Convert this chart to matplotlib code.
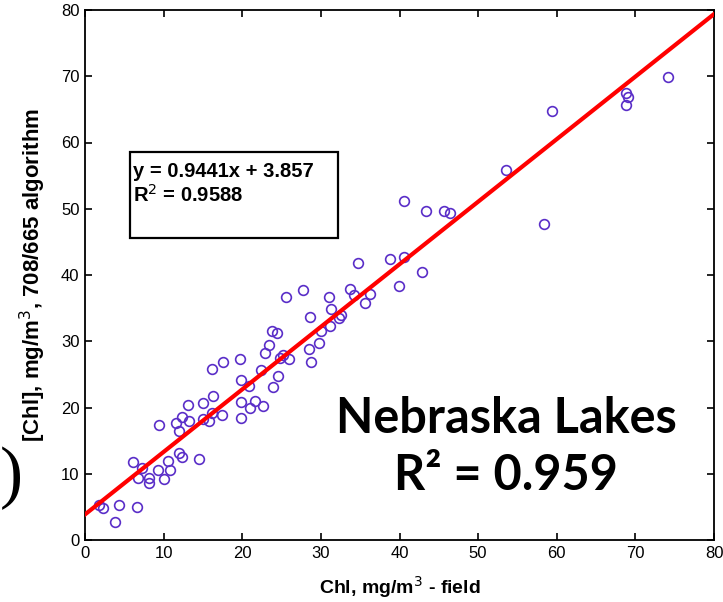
import numpy as np
import matplotlib
matplotlib.use("Agg")
import matplotlib.pyplot as plt
from matplotlib.patches import Rectangle

# field chlorophyll vs. 708/665 algorithm estimate
chl_field = [1.8, 2.3, 4.3, 3.8, 6.6, 6.1, 7.2, 6.7, 8.2, 8.2, 9.3, 10.1, 9.4, 10.6, 10.8,
             11.9, 12.4, 14.5, 11.6, 11.9, 12.4, 13.1, 13.2, 15.0, 16.3, 15.0, 15.8, 16.1,
             17.4, 19.9, 19.9, 21.0, 21.6, 22.6, 20.9, 23.9, 19.9,
             16.1, 17.6, 19.7, 22.4, 24.6, 22.9, 23.4, 23.8, 24.4, 24.8, 25.2, 25.9, 25.6,
             27.7, 28.6, 28.5, 28.8, 29.8, 30.0, 31.0, 31.3, 31.1, 32.3,
             40.6, 43.4, 45.6, 46.4, 34.7, 38.8, 40.6, 42.8, 39.9, 33.7, 34.2, 35.6, 36.2, 32.6,
             74.1, 68.8, 69.1, 68.8, 59.4, 53.6, 58.4]
chl_algo = [5.3, 4.8, 5.3, 2.7, 5.0, 11.8, 10.8, 9.3, 9.3, 8.6, 10.6, 9.2, 17.4, 11.9, 10.6,
            13.1, 12.6, 12.2, 17.7, 16.5, 18.6, 20.4, 17.9, 20.7, 21.7, 18.2, 17.9, 19.1,
            18.9, 20.9, 18.4, 19.9, 21.0, 20.3, 23.3, 23.1, 24.2,
            25.8, 26.8, 27.3, 25.7, 24.7, 28.3, 29.4, 31.6, 31.3, 27.4, 27.9, 27.3, 36.7,
            37.8, 33.7, 28.9, 26.9, 29.8, 31.5, 36.7, 34.9, 32.3, 33.5,
            51.2, 49.7, 49.7, 49.3, 41.8, 42.4, 42.7, 40.4, 38.3, 37.9, 37.0, 35.7, 37.1, 34.0,
            69.9, 67.5, 66.9, 65.6, 64.8, 55.8, 47.7]

slope, intercept = 0.9441, 3.857
eq_text = "y = 0.9441x + 3.857\nR$^2$ = 0.9588"
title_lines = ["Nebraska Lakes", "R² = 0.959"]

plt.rcParams['font.family'] = ['Liberation Sans', 'DejaVu Sans']

fig = plt.figure(figsize=(7.23, 6.02), dpi=100)
ax = fig.add_axes([85/723, 62/602, 629/723, 530/602])

ax.plot(chl_field, chl_algo, 'o', ms=7, mfc='none', mec='#5a2ec8', mew=1.2, zorder=2)

xf = np.array([0, 80])
ax.plot(xf, slope*xf + intercept, color='#ff0000', lw=3, zorder=3)

ax.set_xlim(0, 80)
ax.set_ylim(0, 80)
ax.set_xticks(range(0, 81, 10))
ax.set_yticks(range(0, 81, 10))
ax.tick_params(direction='in', top=True, right=True, length=5, width=1.2,
               labelsize=12, pad=4)
for s in ax.spines.values():
    s.set_linewidth(1.3)

ax.set_xlabel("Chl, mg/m$^3$ - field", fontsize=14, fontweight='bold', labelpad=10)
ax.set_ylabel("[Chl], mg/m$^3$, 708/665 algorithm", fontsize=16, fontweight='bold',
              labelpad=9)

# equation box
ax.add_patch(Rectangle((0.0715, 0.570), 0.33, 0.162, transform=ax.transAxes,
                       fc='white', ec='black', lw=1.6, zorder=4))
ax.text(0.077, 0.714, eq_text, transform=ax.transAxes, fontsize=14.5, fontweight='bold',
        va='top', ha='left', linespacing=1.2, zorder=5)

fig.text(506/723, 1 - 433/602, title_lines[0], fontsize=35, fontweight='bold',
         ha='center', va='baseline', family=['Lato', 'DejaVu Sans'])
fig.text(506/723, 1 - 490/602, title_lines[1], fontsize=35, fontweight='bold',
         ha='center', va='baseline', family=['Lato', 'DejaVu Sans'])

fig.text(11/723, 1 - 478/602, ")", fontsize=50, ha='center', va='center',
         family=['Liberation Serif', 'DejaVu Serif'])

fig.savefig("out.png", dpi=100)
